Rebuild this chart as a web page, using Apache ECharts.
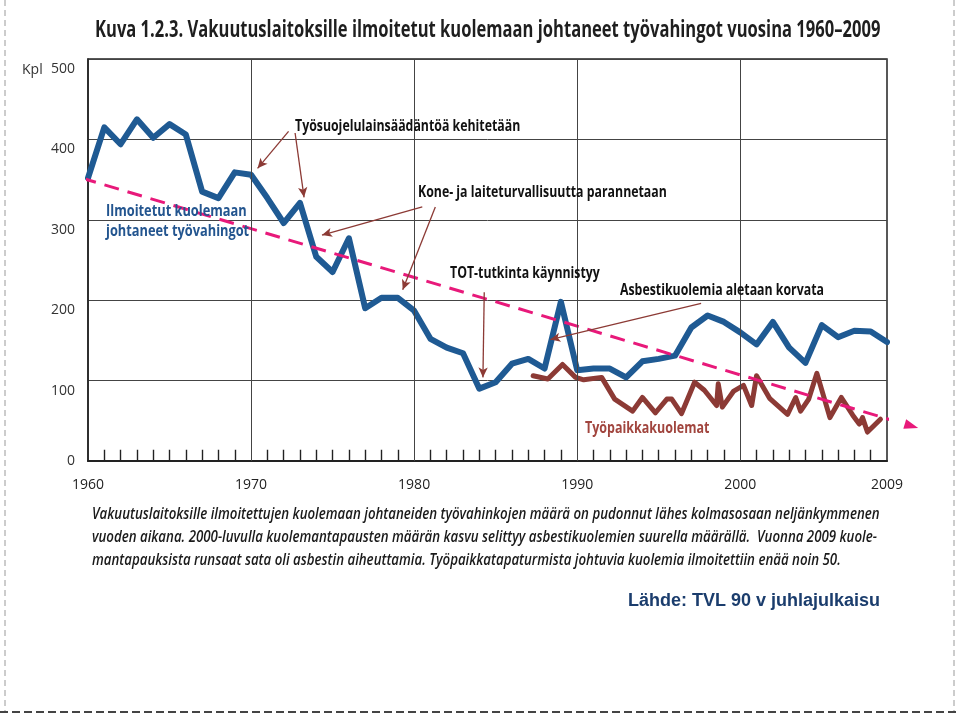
<!DOCTYPE html>
<html><head><meta charset="utf-8">
<script src="https://cdn.jsdelivr.net/npm/echarts@6/dist/echarts.min.js"></script>
<style>html,body{margin:0;padding:0;background:#fff}#c{width:960px;height:716px}</style>
</head><body><div id="c"></div>
<script>
// ---- data ----
const years = [1960,1961,1962,1963,1964,1965,1966,1967,1968,1969,
               1970,1971,1972,1973,1974,1975,1976,1977,1978,1979,
               1980,1981,1982,1983,1984,1985,1986,1987,1988,1989,
               1990,1991,1992,1993,1994,1995,1996,1997,1998,1999,
               2000,2001,2002,2003,2004,2005,2006,2007,2008,2009];
const reportedDeaths = [352,415,394,425,402,419,406,335,327,359,
                        356,327,296,321,254,235,277,190,203,203,
                        187,152,141,134,90,98,121,127,115,198,
                        113,115,115,104,124,127,131,166,181,173,
                        160,145,173,141,122,169,154,162,161,148];
const workplaceYears = [1987.3,1988.2,1989.1,1989.9,1990.4,1991.5,1992.3,1993.4,1994.0,1994.8,
                        1995.5,1995.8,1996.4,1997.2,1997.8,1998.55,1998.65,1998.9,1999.6,2000.2,
                        2000.7,2001.0,2001.8,2002.9,2003.4,2003.7,2004.2,2004.7,2005.5,2006.2,
                        2006.9,2007.3,2007.5,2007.8,2008.6];
const workplaceDeaths = [106,102,120,104,101,104,77,62,79,60,
                         77,77,59,98,88,69,96,67,87,94,
                         69,106,78,58,79,62,77,109,54,79,
                         57,46,54,36,52];
const trendYears = [1959.6, 2010.5];
const trendValues = [352, 43.5];
const yTickValues = [0,100,200,300,400,500];
const xLabelValues = [1960,1970,1980,1990,2000,2009];
const decadeLines = [1970,1980,1990,2000];
const xMinorTicks = [1961,1962,1963,1964,1965,1966,1967,1968,1969,
                     1971,1972,1973,1974,1975,1976,1977,1978,1979,
                     1981,1982,1983,1984,1985,1986,1987,1988,1989,
                     1991,1992,1993,1994,1995,1996,1997,1998,1999,
                     2001,2002,2003,2004,2005,2006,2007,2008];
const minorTickHeight = 14; // in axis units (Kpl)
// annotation arrows: [fromYear, fromValue, toYear, toValue]
const arrowFromYear = [1972.3,1972.7,1980.5,1981.3,1984.3,1997.6];
const arrowFromVal  = [410,408,316,316,210,196];
const arrowToYear   = [1970.4,1973.25,1974.35,1979.3,1984.22,1988.35];
const arrowToVal    = [364,328,281,213,104,151];

const FONT = "'Open Sans','Noto Sans',sans-serif";
const BLUE = '#1f5a93', BROWN = '#8c3a35', PINK = '#e8197a';

const chart = echarts.init(document.getElementById('c'));

const arrowData = arrowFromYear.map((x,i)=>[
  {coord:[x, arrowFromVal[i]]},
  {coord:[arrowToYear[i], arrowToVal[i]]}
]);
const gridLineData = decadeLines.map(d=>({xAxis:d}));
const tickData = xMinorTicks.map(y=>[
  {coord:[y,0], lineStyle:{color:'#222',width:1.4}},
  {coord:[y,minorTickHeight]}
]);

function txt(x,y,text,size,weight,color,sx,style){
  return {type:'text', x:x, y:y, scaleX:sx, z:100,
    style:{text:text, fontSize:size, fontWeight:weight, fontFamily:FONT, fontStyle:style||'normal',
      fill:color, align:'left', verticalAlign:'middle'}};
}

const option = {
  animation:false,
  backgroundColor:'#ffffff',
  grid:{left:88,right:73,top:59,bottom:255,show:true,borderColor:'#222',borderWidth:1.5},
  xAxis:{
    type:'value', min:1960, max:2009, interval:10,
    axisLine:{show:true, onZero:false, lineStyle:{color:'#222',width:2}},
    axisTick:{show:false},
    axisLabel:{fontFamily:FONT,fontSize:14,color:'#222',margin:17,customValues:xLabelValues,
      formatter:function(v){ return String(v); }},
    splitLine:{show:false}
  },
  yAxis:{
    type:'value', min:0, max:500, interval:100,
    axisLine:{show:true,lineStyle:{color:'#222',width:1.5}},
    axisTick:{show:false},
    axisLabel:{margin:13,fontFamily:FONT,fontSize:14,color:'#333',
      formatter:function(v){ return yTickValues.indexOf(v)<0 ? '' : (v===0 ? '{z|0}' : '{n|'+v+'}'); },
      rich:{z:{fontFamily:FONT,fontSize:14,color:'#333'},
            n:{fontFamily:FONT,fontSize:14,color:'#333',padding:[20,0,0,0]}}},
    splitLine:{show:true,lineStyle:{color:'#444',width:1}}
  },
  series:[{
    type:'line', name:'decades', z:1, data:[], symbol:'none',
    markLine:{silent:true, symbol:['none','none'], animation:false, label:{show:false},
      lineStyle:{color:'#444',width:1,type:'solid'}, emphasis:{disabled:true},
      data:gridLineData.concat(tickData)}
  },{
    type:'line', name:'Ilmoitetut', clip:false,
    data:years.map((y,i)=>[y,reportedDeaths[i]]),
    symbol:'none', z:3,
    lineStyle:{color:BLUE,width:6,join:'round',cap:'round'},
    markLine:{silent:true, symbol:['none','arrow'], symbolSize:[7,10], animation:false,
      label:{show:false}, lineStyle:{color:BROWN,width:1.3,type:'solid'},
      emphasis:{disabled:true}, data:arrowData}
  },{
    type:'line', name:'Työpaikkakuolemat',
    data:workplaceYears.map((y,i)=>[y,workplaceDeaths[i]]),
    symbol:'none', z:3,
    lineStyle:{color:BROWN,width:5,join:'round',cap:'round'}
  },{
    type:'line', name:'trend', clip:false, z:4,
    data:[
      {value:[trendYears[0],trendValues[0]], symbol:'none'},
      {value:[trendYears[1],trendValues[1]], symbol:'triangle', symbolSize:[10,14], symbolRotate:-106.6,
        itemStyle:{color:PINK}}
    ],
    showSymbol:true,
    lineStyle:{color:PINK,width:3,type:[15,9]}
  }],
  graphic:[
    txt(95,30,'Kuva 1.2.3. Vakuutuslaitoksille ilmoitetut kuolemaan johtaneet työvahingot vuosina 1960–2009',23,700,'#1e1e1e',0.72),
    txt(22,70,'Kpl',14,400,'#333',1),
    txt(295,126,'Työsuojelulainsäädäntöä kehitetään',16,700,'#111',0.77),
    txt(418,192,'Kone- ja laiteturvallisuutta parannetaan',16,700,'#111',0.77),
    txt(450,273,'TOT-tutkinta käynnistyy',16,700,'#111',0.77),
    txt(620,290,'Asbestikuolemia aletaan korvata',16,700,'#111',0.77),
    txt(106,211,'Ilmoitetut kuolemaan',16,700,'#23558f',0.8),
    txt(106,231,'johtaneet työvahingot',16,700,'#23558f',0.8),
    txt(585,428,'Työpaikkakuolemat',16,700,'#a1453e',0.78),
    txt(92,514,'Vakuutuslaitoksille ilmoitettujen kuolemaan johtaneiden työvahinkojen määrä on pudonnut lähes kolmasosaan neljänkymmenen',16,600,'#1a1a1a',0.83,'italic'),
    txt(92,537,'vuoden aikana. 2000-luvulla kuolemantapausten määrän kasvu selittyy asbestikuolemien suurella määrällä.  Vuonna 2009 kuole-',16,600,'#1a1a1a',0.83,'italic'),
    txt(92,560,'mantapauksista runsaat sata oli asbestin aiheuttamia. Työpaikkatapaturmista johtuvia kuolemia ilmoitettiin enää noin 50.',16,600,'#1a1a1a',0.83,'italic'),
    {type:'text', x:628, y:601, z:100, style:{text:'Lähde: TVL 90 v juhlajulkaisu', fontSize:18, fontWeight:700,
      fontFamily:"'Liberation Sans',Arial,sans-serif", fill:'#1b3d6d', align:'left', verticalAlign:'middle'}},
    {type:'line', z:100, shape:{x1:5,y1:0,x2:5,y2:712}, style:{stroke:'#9a9a9a',lineWidth:1,lineDash:[6,4]}},
    {type:'line', z:100, shape:{x1:954,y1:0,x2:954,y2:712}, style:{stroke:'#9a9a9a',lineWidth:1,lineDash:[6,4]}},
    {type:'line', z:100, shape:{x1:0,y1:712,x2:960,y2:712}, style:{stroke:'#444',lineWidth:2,lineDash:[8,4]}}
  ]
};
chart.setOption(option);
</script></body></html>
